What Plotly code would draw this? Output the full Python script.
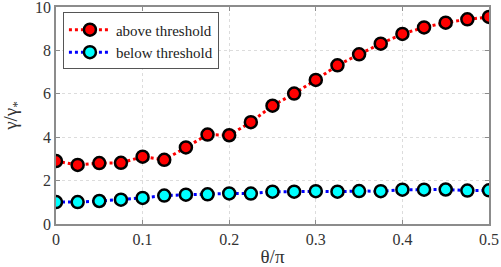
import plotly.graph_objects as go

theta = [0, 0.025, 0.05, 0.075, 0.1, 0.125, 0.15, 0.175, 0.2, 0.225, 0.25,
         0.275, 0.3, 0.325, 0.35, 0.375, 0.4, 0.425, 0.45, 0.475, 0.5]
above = [2.90, 2.72, 2.81, 2.82, 3.10, 2.96, 3.53, 4.12, 4.09, 4.69, 5.45,
         6.01, 6.64, 7.31, 7.82, 8.31, 8.76, 9.06, 9.28, 9.43, 9.54]
below = [1.01, 1.01, 1.06, 1.12, 1.20, 1.31, 1.35, 1.37, 1.41, 1.40, 1.49,
         1.49, 1.51, 1.49, 1.52, 1.51, 1.58, 1.58, 1.59, 1.54, 1.55]
xticks = [0, 0.1, 0.2, 0.3, 0.4, 0.5]
yticks = [0, 2, 4, 6, 8, 10]

font = "Times New Roman, Liberation Serif, DejaVu Serif, serif"
fig = go.Figure()
fig.add_trace(go.Scatter(x=theta, y=above, mode="lines+markers", name="above threshold",
                         line=dict(color="red", width=3, dash="dot"),
                         marker=dict(size=12, color="red", line=dict(color="black", width=2.5))))
fig.add_trace(go.Scatter(x=theta, y=below, mode="lines+markers", name="below threshold",
                         line=dict(color="blue", width=3, dash="dot"),
                         marker=dict(size=12, color="cyan", line=dict(color="black", width=2.5))))

axis_common = dict(showline=True, linecolor="#8c8c8c", linewidth=1.5, mirror="ticks",
                   ticks="inside", ticklen=4, tickcolor="#8c8c8c", automargin=False,
                   showgrid=True, gridcolor="#dcdcdc", griddash="dot", gridwidth=1,
                   zeroline=False, ticklabeloverflow="allow",
                   tickfont=dict(family=font, size=16, color="#333333"))
fig.update_xaxes(range=[0, 0.5], tickvals=xticks, ticktext=[str(v) for v in xticks],
                 title=dict(text="θ/π", font=dict(family=font, size=19, color="#333333"), standoff=4),
                 **axis_common)
fig.update_yaxes(range=[0, 10.0001], tickvals=yticks, ticktext=[str(v) for v in yticks],
                 title=dict(text="γ/γ<sub>*</sub>", font=dict(family=font, size=19, color="#333333"), standoff=14),
                 **axis_common)
fig.update_layout(width=501, height=267, margin=dict(l=56, r=12, t=7, b=43),
                  plot_bgcolor="white", paper_bgcolor="white",
                  font=dict(family=font),
                  legend=dict(x=0.016, y=0.975, xanchor="left", yanchor="top",
                              bgcolor="white", bordercolor="#555555", borderwidth=1,
                              font=dict(family=font, size=15, color="#222222"),
                              tracegroupgap=0, itemwidth=42))
fig.write_html("out.html", config={"displayModeBar": False},
               post_script="document.body.style.margin='0';")
